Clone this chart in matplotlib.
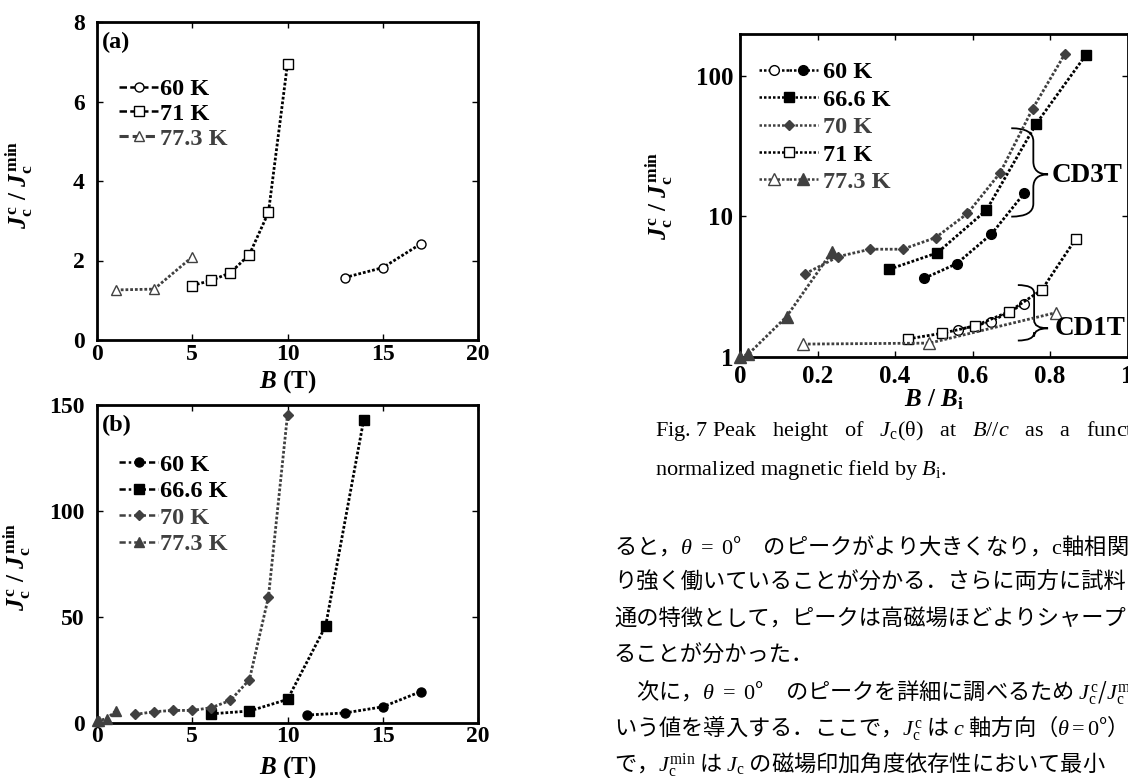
import matplotlib
matplotlib.use('Agg')
import matplotlib.pyplot as plt
from matplotlib.lines import Line2D
from matplotlib.legend_handler import HandlerTuple
from matplotlib.path import Path
from matplotlib.patches import PathPatch
from matplotlib.ticker import NullLocator

plt.rcParams['font.family'] = ['Liberation Serif', 'Noto Sans CJK JP']
plt.rcParams['font.weight'] = 'bold'
plt.rcParams['axes.labelweight'] = 'bold'
plt.rcParams['mathtext.fontset'] = 'custom'
plt.rcParams['mathtext.rm'] = 'Liberation Serif:regular'
plt.rcParams['mathtext.it'] = 'Liberation Serif:italic:regular'
plt.rcParams['mathtext.bf'] = 'Liberation Serif:bold'
plt.rcParams['mathtext.bfit'] = 'Liberation Serif:italic:bold'

# (a) CD1T : Jc^c/Jc^min vs B
B_a_60 = [13, 15, 17]
r_a_60 = [1.57, 1.82, 2.42]
B_a_71 = [5, 6, 7, 8, 9, 10]
r_a_71 = [1.37, 1.50, 1.69, 2.15, 3.21, 6.95]
B_a_77 = [1, 3, 5]
r_a_77 = [1.26, 1.28, 2.09]

# (b) CD3T : Jc^c/Jc^min vs B
B_b_60 = [11, 13, 15, 17]
r_b_60 = [3.6, 4.6, 7.5, 14.7]
B_b_666 = [6, 8, 10, 12, 14]
r_b_666 = [4.2, 5.5, 11.0, 45.6, 143]
B_b_70 = [2, 3, 4, 5, 6, 7, 8, 9, 10]
r_b_70 = [3.9, 5.2, 5.8, 5.8, 7.1, 10.5, 20.3, 59.4, 145.4]
B_b_77 = [0, 0.1, 0.5, 1]
r_b_77 = [1.0, 1.0, 1.9, 5.6]

# правый график: Jc^c/Jc^min vs B/Bi (лог. шкала)
n_60_cd1 = [0.562, 0.648, 0.733]
r_60_cd1 = [1.55, 1.78, 2.38]
n_60_cd3 = [0.476, 0.559, 0.649, 0.734]
r_60_cd3 = [3.63, 4.6, 7.5, 14.7]
n_666 = [0.385, 0.509, 0.636, 0.764, 0.892]
r_666 = [4.2, 5.5, 11.1, 45.6, 141]
n_70 = [0.168, 0.254, 0.336, 0.42, 0.505, 0.587, 0.671, 0.755, 0.839]
r_70 = [3.9, 5.18, 5.84, 5.84, 7.07, 10.5, 20.4, 58.5, 145]
n_71 = [0.434, 0.522, 0.607, 0.695, 0.779, 0.866]
r_71 = [1.34, 1.47, 1.66, 2.1, 3.0, 6.9]
n_77_cd1 = [0.163, 0.489, 0.815]
r_77_cd1 = [1.23, 1.25, 2.06]
n_77_cd3 = [0, 0.021, 0.12, 0.237]
r_77_cd3 = [1.0, 1.04, 1.93, 5.6]

gray = '#404040'
W, H = 1128, 778
fig = plt.figure(figsize=(W / 100, H / 100), dpi=100)


def px_axes(l, t, r, b):
    return fig.add_axes([l / W, 1 - b / H, (r - l) / W, (b - t) / H])


def style(ax, xpad, ypad, size):
    for s in ax.spines.values():
        s.set_linewidth(2.0)
    ax.tick_params(direction='in', top=True, right=True, length=4, width=1.0,
                   labelsize=size)
    ax.tick_params(axis='x', pad=xpad)
    ax.tick_params(axis='y', pad=ypad)


dots = dict(ls=(0, (1, 0.7)), lw=2.0, clip_on=False, zorder=3)
ylab = r'$\mathbfit{J}_\mathbf{c}^{\,\mathbf{c}}$ / $\mathbfit{J}_\mathbf{c}^{\,\mathbf{min}}$'
xlab = r'$\mathbfit{B}$ (T)'
legfont = dict(size=17.5, weight='bold')
labsize = 18

# ---------------- (a) ----------------
axa = px_axes(97, 22, 478, 340)
axa.plot(B_a_60, r_a_60, color='black', marker='o', ms=6.5, mfc='white', mec='black', mew=1.0, **dots)
axa.plot(B_a_71, r_a_71, color='black', marker='s', ms=6.5, mfc='white', mec='black', mew=1.0, **dots)
axa.plot(B_a_77, r_a_77, color=gray, marker='^', ms=7.5, mfc='white', mec=gray, mew=1.0, **dots)
axa.set_xlim(0, 20)
axa.set_ylim(0, 8)
axa.set_xticks([0, 5, 10, 15, 20])
axa.set_yticks([0, 2, 4, 6, 8])
style(axa, 3, 9, 17)
axa.set_xlabel(xlab, fontsize=labsize)
axa.xaxis.set_label_coords(0.5, -0.09)
axa.set_ylabel(ylab, fontsize=labsize)
axa.yaxis.set_label_coords(-0.165, 0.487)
axa.text(0.013, 0.968, '(a)', transform=axa.transAxes, fontsize=17.5, va='top')

ha = [Line2D([], [], color='black', ls=(0, (3, 1.3)), lw=1.8, marker='o', ms=6.5, mfc='white', mec='black'),
      Line2D([], [], color='black', ls=(0, (3, 1.3)), lw=1.8, marker='s', ms=6.5, mfc='white', mec='black'),
      Line2D([], [], color=gray, ls=(0, (3, 1.3)), lw=2.2, marker='^', ms=7.5, mfc='white', mec=gray)]
leg = axa.legend(ha, ['60 K', '71 K', '77.3 K'], loc='upper left', bbox_to_anchor=(0.058, 0.823),
                 frameon=False, borderpad=0, borderaxespad=0, handlelength=1.6,
                 handletextpad=0.1, labelspacing=0.11, prop=legfont)
leg.get_texts()[2].set_color(gray)

# ---------------- (b) ----------------
axb = px_axes(97, 405, 478, 722.7)
axb.plot(B_b_60, r_b_60, color='black', marker='o', ms=6.5, **dots)
axb.plot(B_b_666, r_b_666, color='black', marker='s', ms=7, **dots)
axb.plot(B_b_70, r_b_70, color=gray, marker='D', ms=5.2, **dots)
axb.plot(B_b_77, r_b_77, color=gray, marker='^', ms=7.5, **dots)
axb.set_xlim(0, 20)
axb.set_ylim(0, 150)
axb.set_xticks([0, 5, 10, 15, 20])
axb.set_yticks([0, 50, 100, 150])
style(axb, 2.5, 9, 17)
axb.set_xlabel(xlab, fontsize=labsize)
axb.xaxis.set_label_coords(0.5, -0.1)
axb.set_ylabel(ylab, fontsize=labsize)
axb.yaxis.set_label_coords(-0.17, 0.49)
axb.text(0.013, 0.968, '(b)', transform=axb.transAxes, fontsize=17.5, va='top')

dd = (0, (2.5, 1.2, 1, 1.2))
hb = [Line2D([], [], color='black', ls=dd, lw=1.8, marker='o', ms=6.5),
      Line2D([], [], color='black', ls=dd, lw=1.8, marker='s', ms=7),
      Line2D([], [], color=gray, ls=dd, lw=1.8, marker='D', ms=5.2),
      Line2D([], [], color=gray, ls=dd, lw=1.8, marker='^', ms=7.5)]
leg = axb.legend(hb, ['60 K', '66.6 K', '70 K', '77.3 K'], loc='upper left', bbox_to_anchor=(0.058, 0.846),
                 frameon=False, borderpad=0, borderaxespad=0, handlelength=1.6,
                 handletextpad=0.1, labelspacing=0.18, prop=legfont)
leg.get_texts()[2].set_color(gray)
leg.get_texts()[3].set_color(gray)

# ---------------- правый: B/Bi ----------------
axc = px_axes(740, 34, 1127.5, 356.7)
axc.plot(n_60_cd1, r_60_cd1, color='black', marker='o', ms=7, mfc='white', mec='black', mew=1.0, **dots)
axc.plot(n_71, r_71, color='black', marker='s', ms=7, mfc='white', mec='black', mew=1.0, **dots)
axc.plot(n_77_cd1, r_77_cd1, color=gray, marker='^', ms=8, mfc='white', mec=gray, mew=1.0, **dots)
axc.plot(n_60_cd3, r_60_cd3, color='black', marker='o', ms=7, **dots)
axc.plot(n_666, r_666, color='black', marker='s', ms=7.5, **dots)
axc.plot(n_70, r_70, color=gray, marker='D', ms=5.2, **dots)
axc.plot(n_77_cd3, r_77_cd3, color=gray, marker='^', ms=8, **dots)
axc.set_xlim(0, 1)
axc.set_yscale('log')
axc.set_ylim(1, 200)
axc.set_xticks([0, 0.2, 0.4, 0.6, 0.8, 1])
axc.set_xticklabels(['0', '0.2', '0.4', '0.6', '0.8', '1'])
axc.set_yticks([1, 10, 100])
axc.set_yticklabels(['1', '10', '100'])
axc.yaxis.set_minor_locator(NullLocator())
style(axc, 6, 5, 18)
axc.set_xlabel(r'$\mathbfit{B}$ / $\mathbfit{B}_\mathbf{i}$', fontsize=labsize)
axc.xaxis.set_label_coords(0.5, -0.095)
axc.set_ylabel(ylab, fontsize=labsize)
axc.yaxis.set_label_coords(-0.17, 0.5)

ls_c = (0, (1, 0.8))
o1 = Line2D([], [], color='black', ls=ls_c, lw=1.8, marker='o', ms=7, mfc='white', mec='black')
o2 = Line2D([], [], color='black', ls=ls_c, lw=1.8, marker='o', ms=7)
sq = Line2D([], [], color='black', ls=ls_c, lw=1.8, marker='s', ms=7.5)
di = Line2D([], [], color=gray, ls=ls_c, lw=1.8, marker='D', ms=5.2)
so = Line2D([], [], color='black', ls=ls_c, lw=1.8, marker='s', ms=7, mfc='white', mec='black')
t1 = Line2D([], [], color=gray, ls=ls_c, lw=1.8, marker='^', ms=8, mfc='white', mec=gray)
t2 = Line2D([], [], color=gray, ls=ls_c, lw=1.8, marker='^', ms=8)
leg = axc.legend([(o1, o2), sq, di, so, (t1, t2)], ['60 K', '66.6 K', '70 K', '71 K', '77.3 K'],
                 handler_map={tuple: HandlerTuple(ndivide=None, pad=0)},
                 loc='upper left', bbox_to_anchor=(0.05, 0.915), frameon=False, borderpad=0,
                 borderaxespad=0, handlelength=2.4, handletextpad=0.2, labelspacing=0.22,
                 prop=legfont)
leg.get_texts()[2].set_color(gray)
leg.get_texts()[4].set_color(gray)


# фигурные скобки
def brace(ax, x0, xv, xt, ytop, ymid, ybot, r=0.04):
    verts = [(x0, ytop), (xv, ytop), (xv, ytop - r), (xv, ymid + r), (xv, ymid), (xt, ymid),
             (xv, ymid), (xv, ymid - r), (xv, ybot + r), (xv, ybot), (x0, ybot)]
    codes = [Path.MOVETO, Path.CURVE3, Path.CURVE3, Path.LINETO, Path.CURVE3, Path.CURVE3,
             Path.CURVE3, Path.CURVE3, Path.LINETO, Path.CURVE3, Path.CURVE3]
    ax.add_patch(PathPatch(Path(verts, codes), fill=False, lw=1.3, color='black',
                           transform=ax.transAxes, clip_on=False))


brace(axc, 0.70, 0.757, 0.795, 0.708, 0.565, 0.434)
brace(axc, 0.717, 0.759, 0.795, 0.222, 0.088, 0.050, r=0.025)
axc.text(0.803, 0.563, 'CD3T', transform=axc.transAxes, fontsize=19.5, va='center')
axc.text(0.813, 0.086, 'CD1T', transform=axc.transAxes, fontsize=19.5, va='center')

# подпись рисунка (первая строка выровнена по ширине колонки)
fig.text(655 / W, 1 - 436 / H,
         r'Fig. 7 Peak   height   of   $J_{\rm c}$(θ)   at   $B$//$c$   as   a   function   of   the',
         fontsize=16, fontweight='normal', va='baseline')
fig.text(655 / W, 1 - 475 / H, r'normalized magnetic field by $B_{\rm i}$.',
         fontsize=16, fontweight='normal', va='baseline')

# японский текст
jp_lines = [
    'ると，$\\theta\\ =\\ 0$°　のピークがより大きくなり，$\\mathrm{c}$軸相関がよ',
    'り強く働いていることが分かる．さらに両方に試料に共',
    '通の特徴として，ピークは高磁場ほどよりシャープにな',
    'ることが分かった．',
    '　次に，$\\theta\\ =\\ 0$°　のピークを詳細に調べるため $J_{\\rm c}^{\\rm c}$/$J_{\\rm c}^{\\rm min}$ と',
    'いう値を導入する．ここで，$J_{\\rm c}^{\\rm c}$ は $c$ 軸方向（$\\theta = 0$°）',
    'で，$J_{\\rm c}^{\\rm min}$ は $J_{\\rm c}$ の磁場印加角度依存性において最小',
]
for i, line in enumerate(jp_lines):
    fig.text(614 / W, 1 - (546 + 36.4 * i) / H, line, fontsize=16, fontweight='normal',
             family=['Noto Sans CJK JP', 'Liberation Serif'], va='center')

fig.savefig('out.png', dpi=100)
